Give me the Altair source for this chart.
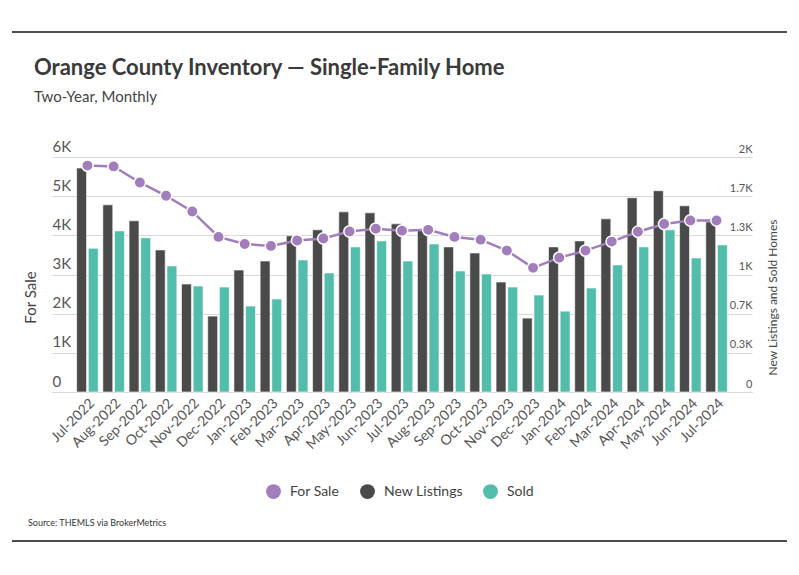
import altair as alt
import pandas as pd

months = ["Jul-2022", "Aug-2022", "Sep-2022", "Oct-2022", "Nov-2022", "Dec-2022",
          "Jan-2023", "Feb-2023", "Mar-2023", "Apr-2023", "May-2023", "Jun-2023",
          "Jul-2023", "Aug-2023", "Sep-2023", "Oct-2023", "Nov-2023", "Dec-2023",
          "Jan-2024", "Feb-2024", "Mar-2024", "Apr-2024", "May-2024", "Jun-2024",
          "Jul-2024"]
for_sale = [5780, 5760, 5350, 5010, 4610, 3960, 3780, 3730, 3870, 3920, 4100, 4170,
            4120, 4140, 3960, 3890, 3610, 3170, 3430, 3610, 3840, 4090, 4290, 4380, 4380]
new_listings = [1906, 1593, 1457, 1209, 919, 646, 1038, 1115, 1329, 1380, 1533, 1525,
                1431, 1374, 1235, 1183, 936, 629, 1235, 1286, 1474, 1653, 1713, 1585, 1448]
sold = [1223, 1371, 1312, 1073, 902, 893, 731, 791, 1124, 1013, 1235, 1286,
        1115, 1260, 1030, 1004, 893, 825, 688, 885, 1081, 1235, 1380, 1141, 1252]

series_names = ["For Sale", "New Listings", "Sold"]
series_colors = ["#a17dbb", "#4a4a4a", "#52bdaa"]
left_ticks = [0, 1000, 2000, 3000, 4000, 5000, 6000]
right_ticks = [0, 2000 / 6, 4000 / 6, 1000, 8000 / 6, 10000 / 6, 2000]
title_text = "Orange County Inventory \u2014 Single-Family Home"
subtitle_text = "Two-Year, Monthly"
source_text = "Source:  THEMLS via BrokerMetrics"

FONT = "Lato"
LABEL = "#555555"

bars_df = pd.DataFrame({
    "month": months * 2,
    "series": ["New Listings"] * len(months) + ["Sold"] * len(months),
    "value": new_listings + sold,
})
line_df = pd.DataFrame({"month": months, "series": "For Sale", "value": for_sale})
title_df = pd.DataFrame({"t": [title_text]})
subtitle_df = pd.DataFrame({"t": [subtitle_text]})
source_df = pd.DataFrame({"t": [source_text]})

color_scale = alt.Scale(domain=series_names, range=series_colors)

x_enc = alt.X(
    "month:N", sort=months, title=None,
    scale=alt.Scale(paddingInner=0.177, paddingOuter=0.94),
    axis=alt.Axis(labelAngle=-45, labelFontSize=14, labelColor=LABEL, labelFont=FONT,
                  ticks=False, domain=True, domainColor="#d9d9d9", labelPadding=4),
)

bars = alt.Chart(bars_df).mark_bar(stroke="white", strokeWidth=0.6).encode(
    x=x_enc,
    xOffset=alt.XOffset("series:N", sort=["New Listings", "Sold"],
                        scale=alt.Scale(paddingInner=0.15, paddingOuter=0)),
    y=alt.Y("value:Q", scale=alt.Scale(domain=[0, 2000], nice=False),
            axis=alt.Axis(orient="right", values=right_ticks, grid=False, domain=False,
                          ticks=False, labelAlign="right", labelBaseline="bottom",
                          labelPadding=0, labelOffset=-3, labelFontSize=11,
                          labelColor=LABEL, labelFont=FONT,
                          labelExpr="datum.value == 0 ? '0' : format(datum.value/1000, '.1~f') + 'K'",
                          title="New Listings and Sold Homes", titleFontSize=12,
                          titleFontWeight="normal", titleColor="#444444", titleFont=FONT,
                          titleAngle=270, titleX=20, titleY=140, titleAlign="center",
                          titleBaseline="middle")),
    color=alt.Color("series:N", scale=color_scale,
                    legend=alt.Legend(title=None, orient="none", direction="horizontal",
                                      legendX=214, legendY=327, symbolType="circle",
                                      symbolSize=220, symbolStrokeWidth=0,
                                      labelFontSize=14, labelFont=FONT, labelColor="#444444",
                                      labelOffset=9, columnPadding=20)),
)

line = alt.Chart(line_df).mark_line(
    strokeWidth=2.5,
    point=alt.OverlayMarkDef(filled=True, size=130, stroke="white", strokeWidth=1.5),
).encode(
    x=x_enc,
    y=alt.Y("value:Q", scale=alt.Scale(domain=[0, 6000], nice=False),
            axis=alt.Axis(orient="left", values=left_ticks, grid=True, gridColor="#d9d9d9",
                          domain=False, ticks=False, labelAlign="left",
                          labelBaseline="bottom", labelPadding=0, labelOffset=-3,
                          labelFontSize=15, labelColor=LABEL, labelFont=FONT,
                          labelExpr="datum.value == 0 ? '0' : (datum.value/1000) + 'K'",
                          title="For Sale", titleFontSize=15, titleFontWeight="normal",
                          titleColor="#444444", titleFont=FONT, titleAngle=270,
                          titleX=-22, titleY=140, titleAlign="center",
                          titleBaseline="middle")),
    color=alt.Color("series:N", scale=color_scale),
)

title = alt.Chart(title_df).mark_text(
    align="left", baseline="alphabetic", fontSize=22, font=FONT, fontWeight="bold",
    color="#3a3a3a"
).encode(text="t:N", x=alt.value(-18), y=alt.value(-82))

subtitle = alt.Chart(subtitle_df).mark_text(
    align="left", baseline="alphabetic", fontSize=15, font=FONT, color="#444444"
).encode(text="t:N", x=alt.value(-18), y=alt.value(-55))

source = alt.Chart(source_df).mark_text(
    align="left", baseline="middle", fontSize=9, font=FONT, color="#333333"
).encode(text="t:N", x=alt.value(-24), y=alt.value(366))

top_rule = alt.Chart(source_df).mark_rule(color="#111111", strokeWidth=1.5).encode(
    x=alt.value(-40), x2=alt.value(735), y=alt.value(-125))
bottom_rule = alt.Chart(source_df).mark_rule(color="#111111", strokeWidth=1.5).encode(
    x=alt.value(-40), x2=alt.value(735), y=alt.value(384))

chart = alt.layer(bars, line, title, subtitle, source, top_rule, bottom_rule).resolve_scale(
    y="independent"
).properties(
    width=700, height=235,
    autosize=alt.AutoSizeParams(type="none"),
    padding={"left": 44, "top": 149, "right": 39, "bottom": 175},
).configure_view(stroke=None)

chart.save("out.html", embed_options={"renderer": "svg", "actions": False})
